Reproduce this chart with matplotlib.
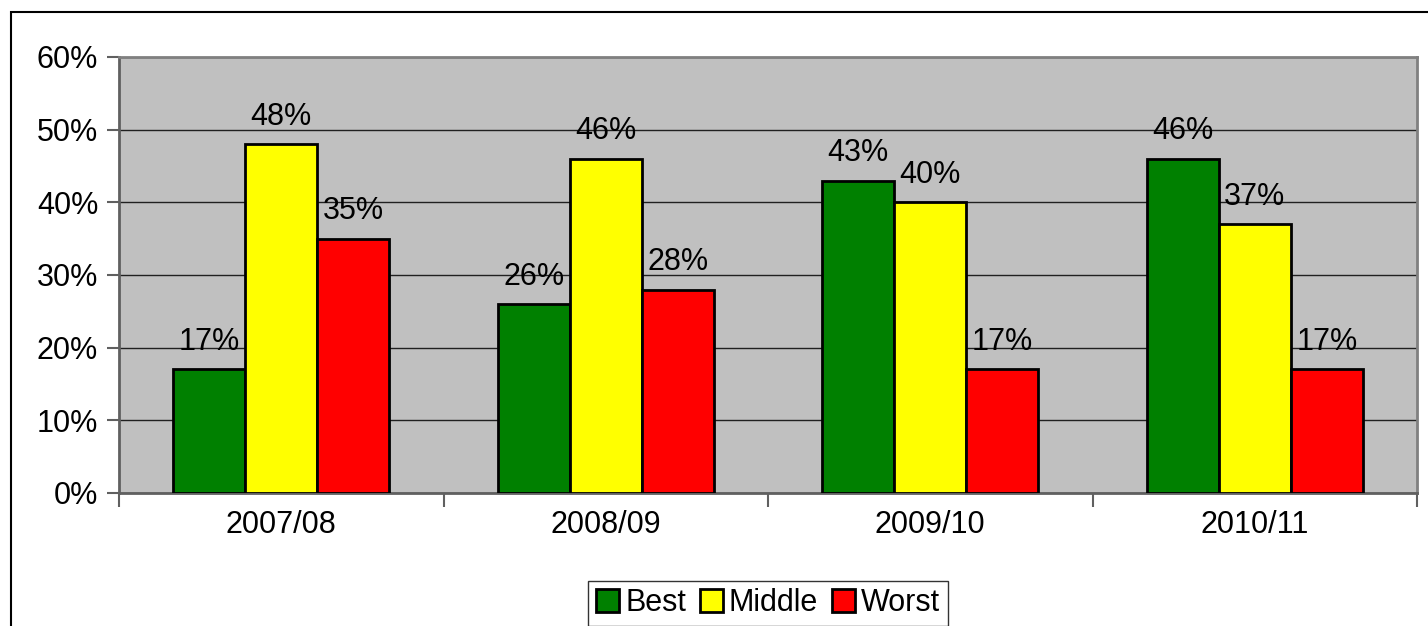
import matplotlib
matplotlib.use("Agg")
import matplotlib.pyplot as plt
import numpy as np
from matplotlib.patches import Rectangle

years = ["2007/08", "2008/09", "2009/10", "2010/11"]
series_names = ["Best", "Middle", "Worst"]
best = [17, 26, 43, 46]
middle = [48, 46, 40, 37]
worst = [35, 28, 17, 17]
colors = ["#008000", "#FFFF00", "#FF0000"]

plt.rcParams['font.family'] = ['Liberation Sans', 'DejaVu Sans']
FS = 22

fig = plt.figure(figsize=(14.28, 6.26), dpi=100)
# outer chart frame (cropped at right and bottom)
fig.patches.append(Rectangle((11 / 1428, -0.1), 1.2, 1 - 12 / 626 + 0.1,
                             transform=fig.transFigure, fill=False,
                             edgecolor="black", linewidth=1.5))

ax = fig.add_axes([119 / 1428, 1 - 493 / 626, (1417 - 119) / 1428, (493 - 57) / 626])
ax.set_facecolor("#C0C0C0")

x = np.arange(len(years))
w = 1 / 4.5
all_vals = [best, middle, worst]
for i, vals in enumerate(all_vals):
    pos = x + (i - 1) * w
    bars = ax.bar(pos, vals, width=w, color=colors[i], edgecolor="black",
                  linewidth=2, label=series_names[i], zorder=3)
    for b, v in zip(bars, vals):
        ax.text(b.get_x() + b.get_width() / 2, v + 1.7, f"{v}%",
                ha="center", va="bottom", fontsize=FS, zorder=4)

ax.set_xlim(-0.5, len(years) - 0.5)
ax.set_ylim(0, 60)
ax.set_yticks(range(0, 61, 10))
ax.set_yticklabels([f"{t}%" for t in range(0, 61, 10)], fontsize=FS)
ax.yaxis.grid(True, color="#202020", linewidth=1, zorder=1)
ax.set_axisbelow(True)

ax.set_xticks(x)
ax.set_xticklabels(years, fontsize=FS)
ax.tick_params(axis="x", length=0, pad=12)
ax.set_xticks(np.arange(-0.5, len(years)), minor=True)
ax.tick_params(axis="x", which="minor", length=10, width=1.5, color="#606060")
ax.tick_params(axis="y", length=9, width=1.5, color="#606060", pad=6)

for s in ["left", "bottom"]:
    ax.spines[s].set_color("#606060")
    ax.spines[s].set_linewidth(2)
for s in ["top", "right"]:
    ax.spines[s].set_color("#808080")
    ax.spines[s].set_linewidth(2)

leg = ax.legend(loc="lower center", bbox_to_anchor=(0.5, -0.305), ncol=3,
                fontsize=FS, frameon=True, fancybox=False, edgecolor="black",
                handlelength=0.75, handleheight=0.75, handletextpad=0.2,
                columnspacing=0.45, borderpad=0.25, borderaxespad=0)
leg.get_frame().set_linewidth(1)
for h in leg.legend_handles:
    h.set_linewidth(2)

fig.savefig("out.png", dpi=100)
